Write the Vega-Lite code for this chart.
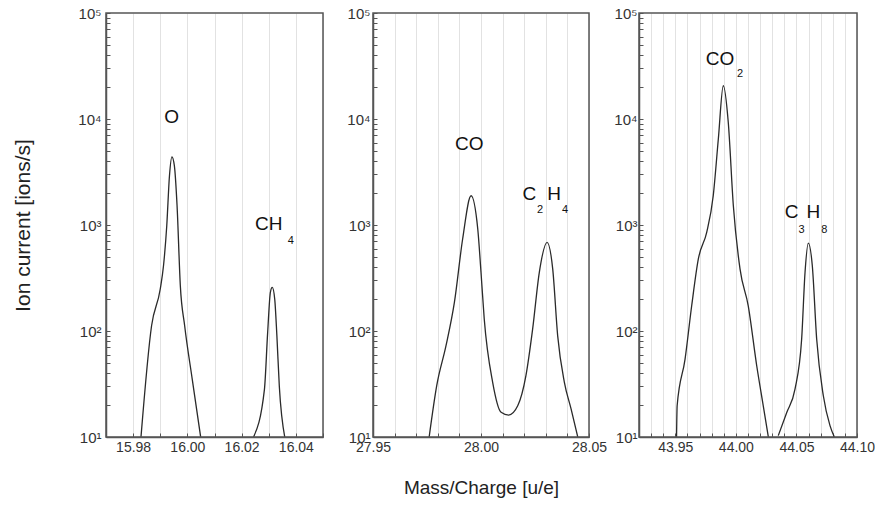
{
  "$schema": "https://vega.github.io/schema/vega-lite/v6.json",
  "background": "white",
  "autosize": {"type": "pad"},
  "bounds": "flush",
  "padding": {"left": 12, "top": 6, "right": 0, "bottom": 5},
  "spacing": 50,
  "config": {
    "font": "Liberation Sans",
    "view": {"stroke": null},
    "axis": {
      "domainColor": "#555",
      "domainWidth": 1.5,
      "tickColor": "#555",
      "tickWidth": 1,
      "tickSize": -4,
      "labelFont": "Liberation Sans",
      "labelFontSize": 14,
      "labelColor": "#333",
      "labelFlush": false,
      "labelOverlap": false,
      "labelBound": false,
      "titleFont": "Liberation Sans",
      "titleFontWeight": "normal",
      "titleColor": "#222",
      "gridColor": "#e2e2e2",
      "gridWidth": 1
    }
  },
  "datasets": {
    "p1": [
      {"peak": "O", "mz": 15.9829, "i": 10},
      {"peak": "O", "mz": 15.9868, "i": 112},
      {"peak": "O", "mz": 15.9900, "i": 249},
      {"peak": "O", "mz": 15.9912, "i": 413},
      {"peak": "O", "mz": 15.9924, "i": 985},
      {"peak": "O", "mz": 15.9934, "i": 2917},
      {"peak": "O", "mz": 15.9943, "i": 4400},
      {"peak": "O", "mz": 15.9952, "i": 3630},
      {"peak": "O", "mz": 15.9962, "i": 1520},
      {"peak": "O", "mz": 15.9974, "i": 268},
      {"peak": "O", "mz": 15.9990, "i": 112},
      {"peak": "O", "mz": 16.0018, "i": 35},
      {"peak": "O", "mz": 16.0049, "i": 10},
      {"peak": "CH4", "mz": 16.0244, "i": 10},
      {"peak": "CH4", "mz": 16.0284, "i": 28},
      {"peak": "CH4", "mz": 16.0296, "i": 97},
      {"peak": "CH4", "mz": 16.0306, "i": 232},
      {"peak": "CH4", "mz": 16.0313, "i": 258},
      {"peak": "CH4", "mz": 16.0322, "i": 200},
      {"peak": "CH4", "mz": 16.0330, "i": 90},
      {"peak": "CH4", "mz": 16.0339, "i": 30},
      {"peak": "CH4", "mz": 16.0359, "i": 10}
    ],
    "p2": [
      {"peak": "CO", "mz": 27.9760, "i": 10},
      {"peak": "CO", "mz": 27.9795, "i": 30.5},
      {"peak": "CO", "mz": 27.9838, "i": 72.6},
      {"peak": "CO", "mz": 27.9877, "i": 187},
      {"peak": "CO", "mz": 27.9915, "i": 738},
      {"peak": "CO", "mz": 27.9954, "i": 1888},
      {"peak": "CO", "mz": 27.9985, "i": 917},
      {"peak": "CO", "mz": 28.0000, "i": 358},
      {"peak": "CO", "mz": 28.0015, "i": 130},
      {"peak": "CO", "mz": 28.0054, "i": 32.8},
      {"peak": "CO", "mz": 28.0093, "i": 17.1},
      {"peak": "CO", "mz": 28.0128, "i": 16.1},
      {"peak": "CO", "mz": 28.0170, "i": 19.7},
      {"peak": "CO", "mz": 28.0208, "i": 37.9},
      {"peak": "CO", "mz": 28.0239, "i": 104},
      {"peak": "CO", "mz": 28.0270, "i": 358},
      {"peak": "CO", "mz": 28.0306, "i": 687},
      {"peak": "CO", "mz": 28.0332, "i": 385},
      {"peak": "CO", "mz": 28.0355, "i": 90},
      {"peak": "CO", "mz": 28.0386, "i": 32.8},
      {"peak": "CO", "mz": 28.0417, "i": 18.4},
      {"peak": "CO", "mz": 28.0448, "i": 10}
    ],
    "p3": [
      {"peak": "CO2", "mz": 43.9510, "i": 10},
      {"peak": "CO2", "mz": 43.9515, "i": 19.7},
      {"peak": "CO2", "mz": 43.9580, "i": 54},
      {"peak": "CO2", "mz": 43.9635, "i": 173},
      {"peak": "CO2", "mz": 43.9690, "i": 478},
      {"peak": "CO2", "mz": 43.9759, "i": 853},
      {"peak": "CO2", "mz": 43.9813, "i": 1888},
      {"peak": "CO2", "mz": 43.9855, "i": 6470},
      {"peak": "CO2", "mz": 43.9896, "i": 20600},
      {"peak": "CO2", "mz": 43.9937, "i": 9310},
      {"peak": "CO2", "mz": 43.9979, "i": 1520},
      {"peak": "CO2", "mz": 44.0034, "i": 385},
      {"peak": "CO2", "mz": 44.0102, "i": 173},
      {"peak": "CO2", "mz": 44.0172, "i": 47},
      {"peak": "CO2", "mz": 44.0226, "i": 19.7},
      {"peak": "CO2", "mz": 44.0268, "i": 10},
      {"peak": "C3H8", "mz": 44.0350, "i": 10.3},
      {"peak": "C3H8", "mz": 44.0420, "i": 17},
      {"peak": "C3H8", "mz": 44.0488, "i": 28.3},
      {"peak": "C3H8", "mz": 44.0543, "i": 84},
      {"peak": "C3H8", "mz": 44.0571, "i": 358},
      {"peak": "C3H8", "mz": 44.0598, "i": 676},
      {"peak": "C3H8", "mz": 44.0631, "i": 413},
      {"peak": "C3H8", "mz": 44.0667, "i": 84},
      {"peak": "C3H8", "mz": 44.0722, "i": 24.5},
      {"peak": "C3H8", "mz": 44.0777, "i": 12.8},
      {"peak": "C3H8", "mz": 44.0813, "i": 10}
    ],
    "f1": [{"mz": 15.97, "mz2": 16.05, "i": 10, "i2": 100000}],
    "f2": [{"mz": 27.95, "mz2": 28.05, "i": 10, "i2": 100000}],
    "f3": [{"mz": 43.92, "mz2": 44.10, "i": 10, "i2": 100000}],
    "l1": [
      {"t": "O", "mz": 15.9942, "i": 10500},
      {"t": "CH", "mz": 16.0300, "i": 1023}
    ],
    "s1": [
      {"t": "4", "mz": 16.0381, "i": 711}
    ],
    "l2": [
      {"t": "CO", "mz": 27.9946, "i": 5800},
      {"t": "C", "mz": 28.0224, "i": 1960},
      {"t": "H", "mz": 28.0339, "i": 1960}
    ],
    "s2": [
      {"t": "2", "mz": 28.0273, "i": 1385},
      {"t": "4", "mz": 28.0389, "i": 1385}
    ],
    "l3": [
      {"t": "CO", "mz": 43.9869, "i": 36800},
      {"t": "C", "mz": 44.0461, "i": 1318},
      {"t": "H", "mz": 44.0639, "i": 1318}
    ],
    "s3": [
      {"t": "2", "mz": 44.0034, "i": 26600},
      {"t": "3", "mz": 44.0543, "i": 903},
      {"t": "8", "mz": 44.0730, "i": 903}
    ]
  },
  "hconcat": [
    {
      "width": 217,
      "height": 424,
      "encoding": {
        "x": {"field": "mz", "type": "quantitative",
          "scale": {"domain": [15.97, 16.05], "nice": false, "zero": false},
          "axis": {"orient": "bottom", "title": null, "grid": true,
            "values": [15.97, 15.98, 15.99, 16.0, 16.01, 16.02, 16.03, 16.04, 16.05],
            "labelExpr": "round(datum.value*100)%2==0 ? format(datum.value,'.2f') : ''",
            "labelPadding": 7}},
        "y": {"field": "i", "type": "quantitative",
          "scale": {"type": "log", "domain": [10, 100000], "nice": false},
          "axis": {"orient": "left", "title": "Ion current [ions/s]", "titleFontSize": 21, "titlePadding": 44, "grid": false,
            "values": [10,20,30,40,50,60,70,80,90,100,200,300,400,500,600,700,800,900,1000,2000,3000,4000,5000,6000,7000,8000,9000,10000,20000,30000,40000,50000,60000,70000,80000,90000,100000],
            "labelExpr": "abs(log(datum.value)/LN10 - round(log(datum.value)/LN10)) < 0.001 ? '10' + ['⁰','¹','²','³','⁴','⁵'][round(log(datum.value)/LN10)] : ''",
            "labelFontSize": 15,
            "labelPadding": 9}}
      },
      "layer": [
        {
          "data": {"name": "p1"},
          "mark": {"type": "line", "color": "#2a2a2a", "strokeWidth": 1.3, "interpolate": "monotone", "clip": true},
          "encoding": {"detail": {"field": "peak"}}
        },
        {
          "data": {"name": "f1"},
          "mark": {"type": "rect", "fill": null, "stroke": "#555", "strokeWidth": 1.5},
          "encoding": {"x2": {"field": "mz2"}, "y2": {"field": "i2"}}
        },
        {
          "data": {"name": "l1"},
          "mark": {"type": "text", "fontSize": 19, "color": "#111", "font": "Liberation Sans"},
          "encoding": {"text": {"field": "t"}}
        },
        {
          "data": {"name": "s1"},
          "mark": {"type": "text", "fontSize": 11, "color": "#111", "font": "Liberation Sans"},
          "encoding": {"text": {"field": "t"}}
        }
      ]
    },
    {
      "width": 216,
      "height": 424,
      "encoding": {
        "x": {"field": "mz", "type": "quantitative",
          "scale": {"domain": [27.95, 28.05], "nice": false, "zero": false},
          "axis": {"orient": "bottom", "title": "Mass/Charge [u/e]", "titleFontSize": 19, "titlePadding": 24, "grid": true,
            "values": [27.95, 27.96, 27.97, 27.98, 27.99, 28.0, 28.01, 28.02, 28.03, 28.04, 28.05],
            "labelExpr": "round(datum.value*100)%5==0 ? format(datum.value,'.2f') : ''",
            "labelPadding": 7}},
        "y": {"field": "i", "type": "quantitative",
          "scale": {"type": "log", "domain": [10, 100000], "nice": false},
          "axis": {"orient": "left", "title": null, "grid": false,
            "values": [10,20,30,40,50,60,70,80,90,100,200,300,400,500,600,700,800,900,1000,2000,3000,4000,5000,6000,7000,8000,9000,10000,20000,30000,40000,50000,60000,70000,80000,90000,100000],
            "labelExpr": "abs(log(datum.value)/LN10 - round(log(datum.value)/LN10)) < 0.001 ? '10' + ['⁰','¹','²','³','⁴','⁵'][round(log(datum.value)/LN10)] : ''",
            "labelFontSize": 15,
            "labelPadding": 7}}
      },
      "layer": [
        {
          "data": {"name": "p2"},
          "mark": {"type": "line", "color": "#2a2a2a", "strokeWidth": 1.3, "interpolate": "monotone", "clip": true},
          "encoding": {"detail": {"field": "peak"}}
        },
        {
          "data": {"name": "f2"},
          "mark": {"type": "rect", "fill": null, "stroke": "#555", "strokeWidth": 1.5},
          "encoding": {"x2": {"field": "mz2"}, "y2": {"field": "i2"}}
        },
        {
          "data": {"name": "l2"},
          "mark": {"type": "text", "fontSize": 19, "color": "#111", "font": "Liberation Sans"},
          "encoding": {"text": {"field": "t"}}
        },
        {
          "data": {"name": "s2"},
          "mark": {"type": "text", "fontSize": 11, "color": "#111", "font": "Liberation Sans"},
          "encoding": {"text": {"field": "t"}}
        }
      ]
    },
    {
      "width": 218,
      "height": 424,
      "encoding": {
        "x": {"field": "mz", "type": "quantitative",
          "scale": {"domain": [43.92, 44.10], "nice": false, "zero": false},
          "axis": {"orient": "bottom", "title": null, "grid": true,
            "values": [43.92, 43.93, 43.94, 43.95, 43.96, 43.97, 43.98, 43.99, 44.0, 44.01, 44.02, 44.03, 44.04, 44.05, 44.06, 44.07, 44.08, 44.09, 44.1],
            "labelExpr": "round(datum.value*100)%5==0 ? format(datum.value,'.2f') : ''",
            "labelPadding": 7}},
        "y": {"field": "i", "type": "quantitative",
          "scale": {"type": "log", "domain": [10, 100000], "nice": false},
          "axis": {"orient": "left", "title": null, "grid": false,
            "values": [10,20,30,40,50,60,70,80,90,100,200,300,400,500,600,700,800,900,1000,2000,3000,4000,5000,6000,7000,8000,9000,10000,20000,30000,40000,50000,60000,70000,80000,90000,100000],
            "labelExpr": "abs(log(datum.value)/LN10 - round(log(datum.value)/LN10)) < 0.001 ? '10' + ['⁰','¹','²','³','⁴','⁵'][round(log(datum.value)/LN10)] : ''",
            "labelFontSize": 15,
            "labelPadding": 6}}
      },
      "layer": [
        {
          "data": {"name": "p3"},
          "mark": {"type": "line", "color": "#2a2a2a", "strokeWidth": 1.3, "interpolate": "monotone", "clip": true},
          "encoding": {"detail": {"field": "peak"}}
        },
        {
          "data": {"name": "f3"},
          "mark": {"type": "rect", "fill": null, "stroke": "#555", "strokeWidth": 1.5},
          "encoding": {"x2": {"field": "mz2"}, "y2": {"field": "i2"}}
        },
        {
          "data": {"name": "l3"},
          "mark": {"type": "text", "fontSize": 19, "color": "#111", "font": "Liberation Sans"},
          "encoding": {"text": {"field": "t"}}
        },
        {
          "data": {"name": "s3"},
          "mark": {"type": "text", "fontSize": 11, "color": "#111", "font": "Liberation Sans"},
          "encoding": {"text": {"field": "t"}}
        }
      ]
    }
  ]
}
